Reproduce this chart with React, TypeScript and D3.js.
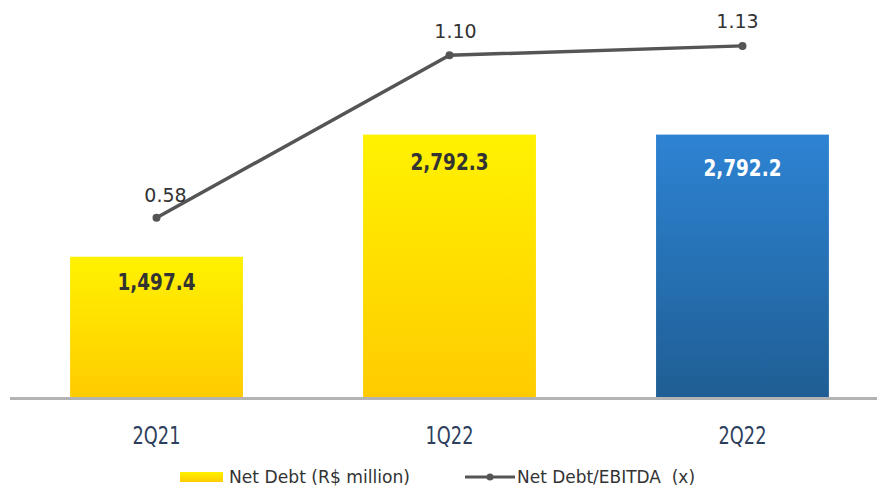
import React from "react";
import * as d3 from "d3";

const categories = ["2Q21", "1Q22", "2Q22"];
const netDebt = [1497.4, 2792.3, 2792.2];
const netDebtLabels = ["1,497.4", "2,792.3", "2,792.2"];
const leverage = [0.58, 1.1, 1.13];
const leverageLabels = ["0.58", "1.10", "1.13"];
const legendLabels = ["Net Debt (R$ million)", "Net Debt/EBITDA  (x)"];

const W = 877;
const H = 492;
const FONT = "'DejaVu Sans', sans-serif";

export default function App() {
  const x = d3
    .scaleBand<string>()
    .domain(categories)
    .range([11.5, 887.5])
    .paddingInner(0.41)
    .paddingOuter(0.2);
  const y = d3.scaleLinear().domain([0, 3000]).range([398, 115]);
  const y2 = d3.scaleLinear().domain([0, 1.2]).range([399, 24]);

  const cx = (i: number) => (x(categories[i]) as number) + x.bandwidth() / 2;

  const lineGen = d3
    .line<number>()
    .x((_, i) => cx(i))
    .y((d) => y2(d));

  const barLabelDy = [33, 35, 41];
  const lineLabelDx = [9, 6, -5];
  const lineLabelDy = [-16, -17, -18];

  return (
    <svg
      width={W}
      height={H}
      style={{ position: "absolute", left: 0, top: 0, background: "#fff" }}
    >
      <defs>
        <linearGradient id="gYellow" x1="0" y1="0" x2="0" y2="1">
          <stop offset="0" stopColor="#FFF200" />
          <stop offset="1" stopColor="#FFCB00" />
        </linearGradient>
        <linearGradient id="gBlue" x1="0" y1="0" x2="0" y2="1">
          <stop offset="0" stopColor="#2D83D3" />
          <stop offset="1" stopColor="#1F5E94" />
        </linearGradient>
        <linearGradient id="gLegend" x1="0" y1="0" x2="0" y2="1">
          <stop offset="0" stopColor="#FFF200" />
          <stop offset="1" stopColor="#FFCB00" />
        </linearGradient>
      </defs>

      {netDebt.map((v, i) => (
        <rect
          key={categories[i]}
          x={x(categories[i])}
          y={y(v)}
          width={x.bandwidth()}
          height={y(0) - y(v)}
          fill={i === 2 ? "url(#gBlue)" : "url(#gYellow)"}
        />
      ))}

      <line x1={10} x2={877} y1={398.5} y2={398.5} stroke="#B3B3B3" strokeWidth={3} />

      {netDebt.map((v, i) => (
        <text
          key={"bl" + i}
          x={cx(i) - 39}
          y={y(v) + barLabelDy[i]}
          fontFamily={FONT}
          fontWeight="bold"
          fontSize={23}
          textLength={78}
          lengthAdjust="spacingAndGlyphs"
          fill={i === 2 ? "#FFFFFF" : "#333333"}
        >
          {netDebtLabels[i]}
        </text>
      ))}

      <path d={lineGen(leverage) || ""} fill="none" stroke="#555555" strokeWidth={3.5} />
      {leverage.map((v, i) => (
        <circle key={"pt" + i} cx={cx(i)} cy={y2(v)} r={4} fill="#555555" />
      ))}
      {leverage.map((v, i) => (
        <text
          key={"ll" + i}
          x={cx(i) + lineLabelDx[i]}
          y={y2(v) + lineLabelDy[i]}
          textAnchor="middle"
          fontFamily={FONT}
          fontSize={19}
          fill="#333333"
        >
          {leverageLabels[i]}
        </text>
      ))}

      {categories.map((c, i) => (
        <text
          key={"c" + c}
          x={cx(i) - 24}
          y={444}
          fontFamily={FONT}
          fontSize={25}
          textLength={48}
          lengthAdjust="spacingAndGlyphs"
          fill="#2E3F5E"
        >
          {c}
        </text>
      ))}

      <g>
        <rect x={180} y={472} width={43} height={10} fill="url(#gLegend)" />
        <text x={229} y={483} fontFamily={FONT} fontSize={18} fill="#333333" textLength={181} lengthAdjust="spacingAndGlyphs">
          {legendLabels[0]}
        </text>
        <line x1={465} x2={515} y1={477} y2={477} stroke="#555555" strokeWidth={3} />
        <circle cx={490} cy={477} r={3.5} fill="#555555" />
        <text x={517} y={483} fontFamily={FONT} fontSize={18} fill="#333333" textLength={178} lengthAdjust="spacingAndGlyphs" xmlSpace="preserve">
          {legendLabels[1]}
        </text>
      </g>
    </svg>
  );
}
